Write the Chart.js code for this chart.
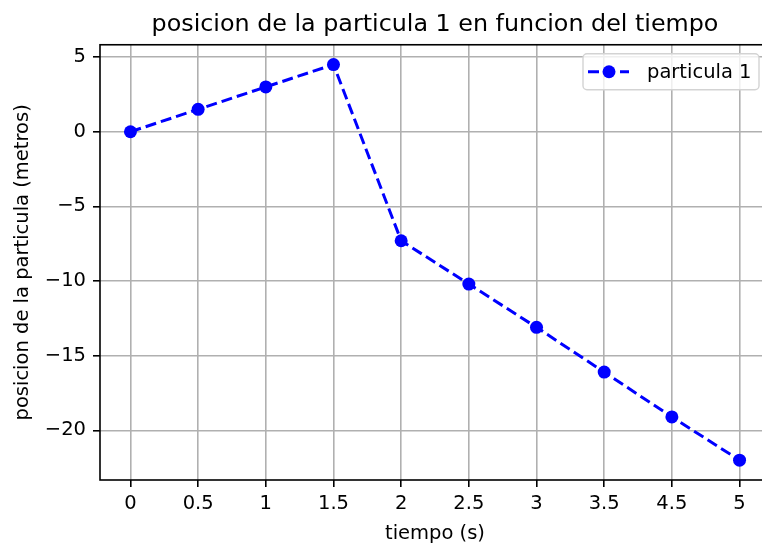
<!DOCTYPE html>
<html>
<head>
<meta charset="utf-8">
<script src="https://cdn.jsdelivr.net/npm/chart.js@4"></script>
<style>
  html, body { margin: 0; padding: 0; background: #fff; overflow: hidden; }
  canvas { display: block; }
</style>
</head>
<body>
<canvas id="grafico" width="800" height="547"></canvas>
<script>
// datos
const tiempos = ['0', '0.5', '1', '1.5', '2', '2.5', '3', '3.5', '4.5', '5']
const posicion = [0, 1.5, 3, 4.5, -7.3, -10.2, -13.1, -16.1, -19.1, -22.0]
const yTicks = [-20, -15, -10, -5, 0, 5]
const serie = 'particula 1'

const azul = '#0000ff'
const fuente = 'DejaVu Sans'

// marco del grafico (spines)
const marco = {
    id: 'marco',
    afterDatasetsDraw(chart) {
        const {ctx, chartArea: a} = chart
        ctx.save()
        ctx.strokeStyle = '#000'
        ctx.lineWidth = 1.6
        ctx.strokeRect(a.left, a.top, a.right - a.left, a.bottom - a.top)
        ctx.restore()
    }
}

// leyenda dentro del area, arriba a la derecha
const leyenda = {
    id: 'leyenda',
    afterDraw(chart) {
        const {ctx, chartArea: a} = chart
        const ds = chart.data.datasets[0]
        const w = 176, h = 36
        const x = a.right - 11 - w, y = a.top + 9
        ctx.save()
        ctx.beginPath()
        ctx.roundRect(x, y, w, h, 4)
        ctx.fillStyle = 'rgba(255,255,255,0.8)'
        ctx.fill()
        ctx.strokeStyle = '#d3d3d3'
        ctx.lineWidth = 1.4
        ctx.stroke()
        const ly = y + h / 2
        ctx.strokeStyle = ds.borderColor
        ctx.lineWidth = ds.borderWidth
        ctx.setLineDash(ds.borderDash)
        ctx.beginPath()
        ctx.moveTo(x + 5, ly)
        ctx.lineTo(x + 46, ly)
        ctx.stroke()
        ctx.setLineDash([])
        ctx.beginPath()
        ctx.arc(x + 26, ly, ds.pointRadius, 0, Math.PI * 2)
        ctx.fillStyle = ds.pointBackgroundColor
        ctx.fill()
        ctx.fillStyle = '#000'
        ctx.font = '19.5px ' + fuente
        ctx.textBaseline = 'middle'
        ctx.fillText(ds.label, x + 64, ly + 1)
        ctx.restore()
    }
}

const graph = new Chart(document.getElementById('grafico').getContext('2d'), {
    type: 'line',
    data: {
        datasets: [{
            label: serie,
            data: posicion.map((v, i) => ({x: i, y: v})),
            borderColor: azul,
            borderWidth: 3,
            borderDash: [11, 5],
            borderCapStyle: 'butt',
            pointRadius: 6.5,
            pointBackgroundColor: azul,
            pointBorderColor: azul,
            pointBorderWidth: 0,
            fill: false,
            tension: 0
        }]
    },
    options: {
        responsive: false,
        animation: false,
        devicePixelRatio: 1,
        layout: { padding: { left: 0, right: 30, top: 0, bottom: 0 } },
        plugins: {
            legend: { display: false },
            tooltip: { enabled: false },
            title: {
                display: true,
                fullSize: false,
                text: 'posicion de la particula 1 en funcion del tiempo',
                color: '#000',
                font: { family: fuente, size: 23.8, weight: 'normal' },
                padding: { top: 11, bottom: 5.2 }
            }
        },
        scales: {
            x: {
                type: 'linear',
                min: -0.45,
                max: tiempos.length - 1 + 0.45,
                afterBuildTicks: s => { s.ticks = tiempos.map((_, i) => ({value: i})) },
                afterFit: s => { s.height = 67 },
                ticks: {
                    callback: v => tiempos[v],
                    color: '#000',
                    padding: 5,
                    maxRotation: 0,
                    font: { family: fuente, size: 19.5 }
                },
                grid: { color: '#b0b0b0', lineWidth: 1.6, tickColor: '#000', tickWidth: 1.6, tickLength: 7 },
                border: { display: false },
                title: {
                    display: true,
                    text: 'tiempo (s)',
                    color: '#000',
                    font: { family: fuente, size: 19.5 },
                    padding: { top: 0, bottom: 1 }
                }
            },
            y: {
                min: -23.325,
                max: 5.825,
                afterBuildTicks: s => { s.ticks = yTicks.map(v => ({value: v})) },
                afterFit: s => { s.width = 100 },
                ticks: {
                    callback: v => v < 0 ? '\u2212' + Math.abs(v) : String(v),
                    color: '#000',
                    padding: 7,
                    font: { family: fuente, size: 19.5 }
                },
                grid: { color: '#b0b0b0', lineWidth: 1.6, tickColor: '#000', tickWidth: 1.6, tickLength: 7 },
                border: { display: false },
                title: {
                    display: true,
                    text: 'posicion de la particula (metros)',
                    color: '#000',
                    font: { family: fuente, size: 19.5 },
                    padding: { top: 11, bottom: 0 }
                }
            }
        }
    },
    plugins: [marco, leyenda]
})
</script>
</body>
</html>
